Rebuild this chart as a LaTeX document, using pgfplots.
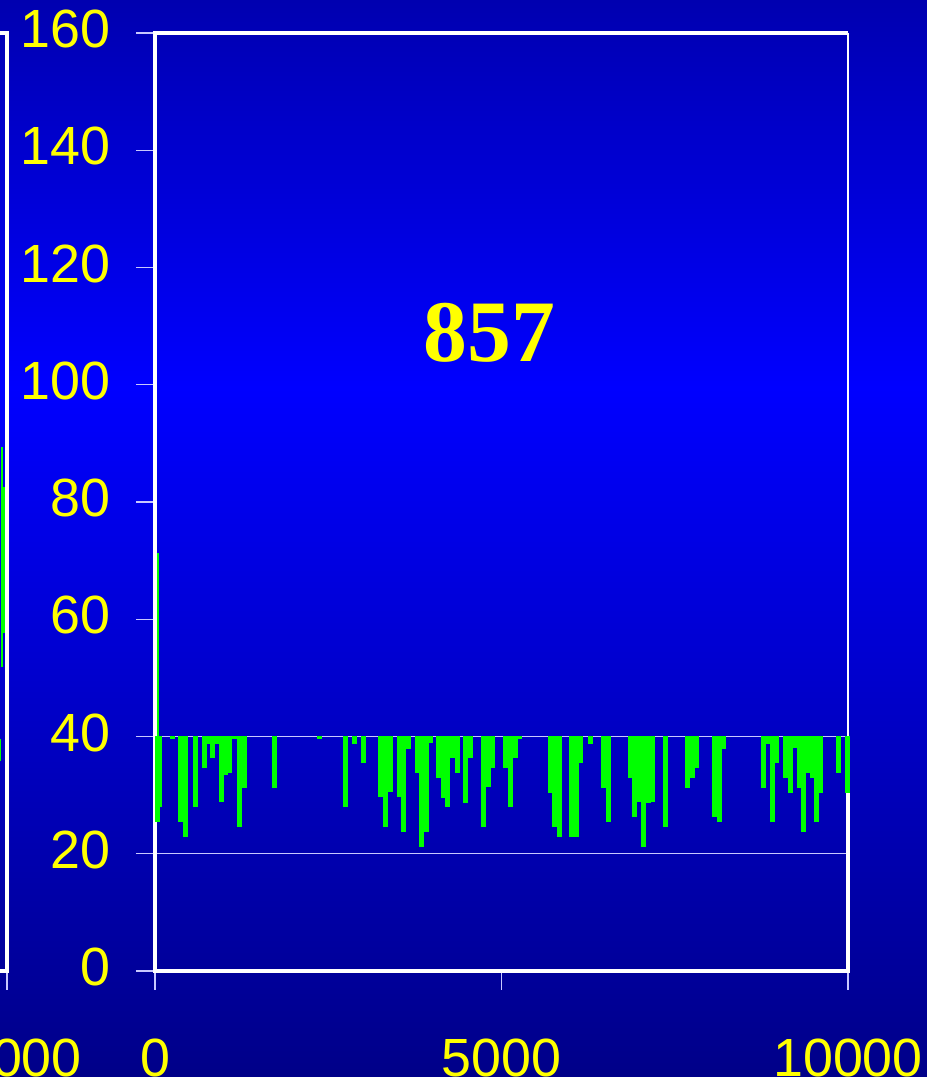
\documentclass[border=0pt]{standalone}
\usepackage{fontspec}
\setmainfont{Liberation Sans}
\newfontfamily\titlefont{Liberation Serif}
\usepackage{pgfplots}
\usepackage{pgfplotstable}
\pgfplotsset{compat=1.18}

\definecolor{barg}{RGB}{0,255,0}
\definecolor{tyel}{RGB}{255,255,0}
\definecolor{gridc}{RGB}{200,200,255}
\definecolor{btop}{RGB}{0,0,176}
\definecolor{bmid}{RGB}{0,0,255}
\definecolor{bbot}{RGB}{0,0,136}

\pgfdeclareverticalshading{bgshade}{100bp}{color(0bp)=(bbot); color(25bp)=(bbot); color(57bp)=(bmid); color(75bp)=(btop); color(100bp)=(btop)}

% bars hanging from the 40 line down to the value
\pgfplotstableread{
x v
40 25.4
72 28.0
253 39.6
375 25.4
447 22.9
584 28.0
714 34.6
772 38.7
830 36.3
895 38.7
960 28.8
1017 33.4
1082 33.8
1154 39.6
1219 24.6
1292 31.2
1724 31.2
2374 39.6
2749 28.0
2879 38.7
3009 35.5
3261 29.7
3326 24.6
3398 30.5
3521 29.7
3586 23.7
3651 37.9
3781 33.8
3846 21.2
3911 23.7
3976 38.9
4091 32.9
4156 29.5
4221 28.0
4293 36.3
4358 33.8
4481 28.7
4553 36.3
4747 24.6
4812 31.4
4877 34.6
5058 34.6
5130 28.0
5195 36.3
5260 39.6
5700 30.4
5765 24.6
5837 22.9
6017 22.9
6082 22.9
6147 35.5
6284 38.7
6472 31.2
6537 25.4
6862 32.9
6926 26.3
6984 28.8
7049 21.2
7121 28.7
7186 28.8
7366 24.6
7684 31.2
7749 32.9
7814 34.6
8074 26.3
8146 25.4
8204 37.9
8781 31.2
8846 38.7
8904 25.4
8968 35.5
9098 32.9
9163 30.4
9228 38.0
9293 31.2
9358 23.7
9423 33.8
9481 32.9
9546 25.4
9610 30.4
9863 33.8
9986 30.4
}\bars

\pgfplotstableread{
x v
40 71.3
}\upbars

\pgfplotsset{
  panel/.style={
    scale only axis, width=346.5bp, height=469bp,
    xmin=0, xmax=10000, ymin=0, ymax=160,
    scaled x ticks=false, scaled y ticks=false,
    /pgf/number format/1000 sep={},
    /pgf/number format/assume math mode=true,
    tick align=outside, xtick pos=bottom, ytick pos=left,
    major tick length=9.5bp,
    every tick/.style={gridc, line width=0.6bp},
    axis line style={draw=none},
    ticklabel style={font=\fontsize{27}{30}\selectfont, text=tyel},
    xticklabel style={yshift=-21bp},
    yticklabel style={xshift=-9.5bp, yshift=2bp},
    clip=false,
  },
  gbar/.style 2 args={draw=none, mark=none, forget plot,
    error bars/.cd, y dir=#2, y explicit, error mark=none,
    error bar style={draw=barg, solid, line width=#1}},
}

\begin{document}
\begin{tikzpicture}
\useasboundingbox (0,0) rectangle (463.5bp,538.5bp);
\shade[shading=bgshade] (0,0) rectangle (463.5bp,538.5bp);

% left neighbouring panel (only its right edge is visible)
\begin{axis}[panel, at={(-343bp,53bp)}, anchor=south west,
  xtick={10000}, ytick=\empty]
\addplot[gbar={2.2bp}{both}]
  coordinates {(9960,70.15) +- (0,12.45)};
\addplot[gbar={0.8bp}{both}]
  coordinates {(9930,70.6) +- (0,18.8)};
\addplot[gbar={1.5bp}{both}]
  coordinates {(9890,37.7) +- (0,1.8)};
\draw[white, line width=1.75bp] (rel axis cs:0,0) rectangle (rel axis cs:1,1);
\end{axis}

% main panel
\begin{axis}[panel, at={(77.5bp,53bp)}, anchor=south west,
  xtick={0,5000,10000}, ytick={0,20,...,160}]
\draw[gridc, line width=0.75bp] (axis cs:0,20) -- (axis cs:10000,20);
\draw[gridc, line width=0.75bp] (axis cs:0,40) -- (axis cs:10000,40);
\draw[white, line width=1.75bp] (axis cs:10000,30.4) -- (rel axis cs:1,0) -- (rel axis cs:0,0) -- (rel axis cs:0,1) -- (rel axis cs:1,1);
\draw[white, line width=0.75bp] (rel axis cs:1,1) -- (axis cs:10000,40);
\addplot[gbar={2.5bp}{plus}]
  table[x=x, y=v, y error expr=40-\thisrow{v}] {\bars};
\addplot[gbar={1.2bp}{minus}]
  table[x=x, y=v, y error expr=\thisrow{v}-40] {\upbars};
\node[font=\titlefont\bfseries\fontsize{44}{48}\selectfont, text=tyel] at (rel axis cs:0.483,0.68) {857};
\end{axis}
\end{tikzpicture}
\end{document}
